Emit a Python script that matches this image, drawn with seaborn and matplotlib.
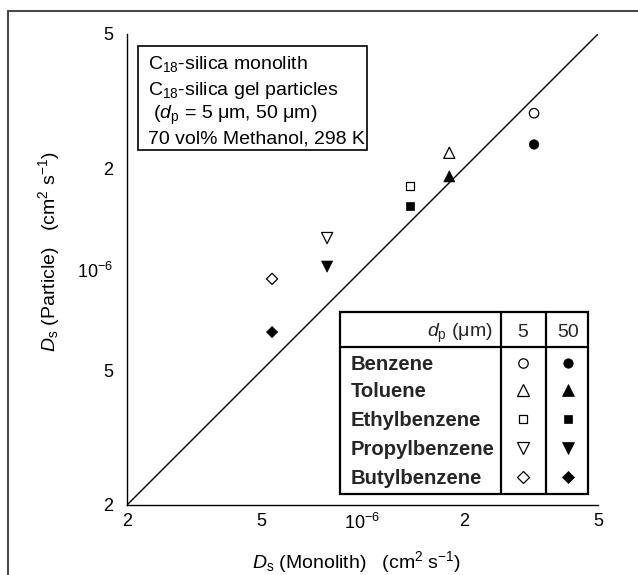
import matplotlib
matplotlib.use("Agg")
import numpy as np
import pandas as pd
import seaborn as sns
import matplotlib.pyplot as plt
from matplotlib.ticker import FixedLocator, NullFormatter
from matplotlib.lines import Line2D
from matplotlib.patches import Rectangle

# ---------------- data ----------------
compounds = ["Benzene", "Toluene", "Ethylbenzene", "Propylbenzene", "Butylbenzene"]
compound_markers = ["o", "^", "s", "v", "D"]
marker_sizes = [46, 64, 32, 64, 32]
ds_monolith = [3.23e-6, 1.81e-6, 1.38e-6, 7.85e-7, 5.39e-7]
ds_particle_5um = [2.91e-6, 2.22e-6, 1.77e-6, 1.24e-6, 9.38e-7]
ds_particle_50um = [2.35e-6, 1.89e-6, 1.54e-6, 1.02e-6, 6.52e-7]
particle_sizes = ["5", "50"]
major_ticks = [2e-7, 5e-7, 1e-6, 2e-6, 5e-6]
tick_labels = ["2", "5", r"$10^{-6}$", "2", "5"]
minor_ticks = [3e-7, 4e-7, 6e-7, 7e-7, 8e-7, 9e-7, 3e-6, 4e-6]
axis_range = [2e-7, 5e-6]
info_lines = [r"C$_{\rm 18}$-silica monolith",
              r"C$_{\rm 18}$-silica gel particles",
              r" ($d_{\rm p}$ = 5 μm, 50 μm)",
              "70 vol% Methanol, 298 K"]

# ---------------- style ----------------
sns.set_theme(style="white")
plt.rcParams["font.family"] = ["Liberation Sans", "DejaVu Sans"]
plt.rcParams["mathtext.fontset"] = "custom"
plt.rcParams["mathtext.rm"] = "Liberation Sans"
plt.rcParams["mathtext.it"] = "Liberation Sans:italic"
plt.rcParams["mathtext.bf"] = "Liberation Sans:bold"

W, H = 638, 575
fig = plt.figure(figsize=(W / 100, H / 100), dpi=100)
ax = fig.add_axes([127 / W, 70 / H, 471 / W, 471 / H])

df = pd.DataFrame({
    "compound": compounds * 2,
    "monolith": ds_monolith * 2,
    "particle": ds_particle_5um + ds_particle_50um,
    "dp": ["5"] * len(compounds) + ["50"] * len(compounds),
})
marker_map = dict(zip(compounds, compound_markers))
size_map = dict(zip(compounds, marker_sizes))

# parity line
sns.lineplot(x=axis_range, y=axis_range, ax=ax, color="black", linewidth=1.0)

for dp in particle_sizes:
    sub = df[df["dp"] == dp]
    open_m = dp == "5"
    sns.scatterplot(data=sub, x="monolith", y="particle", style="compound",
                    size="compound", sizes=size_map, markers=marker_map,
                    facecolor="white" if open_m else "black", edgecolor="black",
                    linewidth=0.9 if open_m else 0.5, legend=False, ax=ax,
                    zorder=3)

ax.set_xscale("log")
ax.set_yscale("log")
ax.set_xlim(axis_range)
ax.set_ylim(axis_range)
for axis in (ax.xaxis, ax.yaxis):
    axis.set_major_locator(FixedLocator(major_ticks))
    axis.set_minor_locator(FixedLocator(minor_ticks))
    axis.set_minor_formatter(NullFormatter())
ax.set_xticklabels(tick_labels)
ax.set_yticklabels(tick_labels)
ax.tick_params(which="both", direction="in", length=4, width=1, color="black",
               labelsize=13, labelcolor="black")
ax.tick_params(axis="x", pad=6)
ax.tick_params(axis="y", pad=10)
ax.xaxis.get_major_ticks()[2].tick1line.set_markersize(8)
ax.yaxis.get_major_ticks()[2].tick1line.set_markersize(8)
sns.despine(ax=ax)
for s in ("left", "bottom"):
    ax.spines[s].set_color("black")
    ax.spines[s].set_linewidth(1.0)

ax.set_xlabel(r"$D_{\rm s}$ (Monolith)   (cm$^{2}$ s$^{-1}$)", fontsize=14, color="black")
ax.set_ylabel(r"$D_{\rm s}$ (Particle)   (cm$^{2}$ s$^{-1}$)", fontsize=14, color="black")
ax.xaxis.set_label_coords(0.488, -0.094)
ax.yaxis.set_label_coords(-0.138, 0.537)

# info box
ax.add_patch(Rectangle((0.0234, 0.7537), 0.4862, 0.2208, transform=ax.transAxes,
                       fill=False, edgecolor="black", linewidth=1.2, zorder=4))
for txt, yb in zip(info_lines, [0.925, 0.871, 0.8195, 0.7676]):
    ax.text(0.0446, yb, txt, transform=ax.transAxes, fontsize=14, va="baseline",
            ha="left", color="black")

# legend table
lt = dict(transform=ax.transAxes, color="black", linewidth=1.6, clip_on=False, zorder=5)
x0, x1, y0, y1 = 0.4522, 0.9788, 0.0234, 0.4098
ax.add_patch(Rectangle((x0, y0), x1 - x0, y1 - y0, transform=ax.transAxes,
                       facecolor="white", edgecolor="black", linewidth=1.6, zorder=4))
ax.add_line(Line2D([x0, x1], [0.3355, 0.3355], **lt))
ax.add_line(Line2D([0.794, 0.794], [y0, y1], **lt))
ax.add_line(Line2D([0.8896, 0.8896], [y0, y1], **lt))
ax.text(0.777, 0.357, r"$d_{\rm p}$ (μm)", transform=ax.transAxes, fontsize=14,
        ha="right", va="baseline", zorder=6)
ax.text(0.8408, 0.357, particle_sizes[0], transform=ax.transAxes, fontsize=14,
        ha="center", va="baseline", zorder=6)
ax.text(0.9363, 0.357, particle_sizes[1], transform=ax.transAxes, fontsize=14,
        ha="center", va="baseline", zorder=6)
row_y = [0.3015, 0.2442, 0.1826, 0.1210, 0.0594]
for name, m, sz, ry in zip(compounds, compound_markers, marker_sizes, row_y):
    ax.text(0.4756, ry - 0.0152, name, transform=ax.transAxes, fontsize=14.6,
            fontweight="bold", ha="left", va="baseline", zorder=6)
    ms = np.sqrt(sz)
    ax.plot([0.8408], [ry], marker=m, ms=ms, mfc="white", mec="black", mew=0.9,
            transform=ax.transAxes, clip_on=False, zorder=6, linestyle="none")
    ax.plot([0.9363], [ry], marker=m, ms=ms, mfc="black", mec="black", mew=0.5,
            transform=ax.transAxes, clip_on=False, zorder=6, linestyle="none")

# outer frame (left and top edges visible)
fig.add_artist(Line2D([7.5 / W, 7.5 / W], [0, 1 - 10.5 / H], transform=fig.transFigure,
                      color="#4a4a4a", linewidth=1.5))
fig.add_artist(Line2D([7.5 / W, 1], [1 - 10.5 / H, 1 - 10.5 / H], transform=fig.transFigure,
                      color="#4a4a4a", linewidth=1.5))

fig.savefig("out.png", dpi=100, facecolor="white")
